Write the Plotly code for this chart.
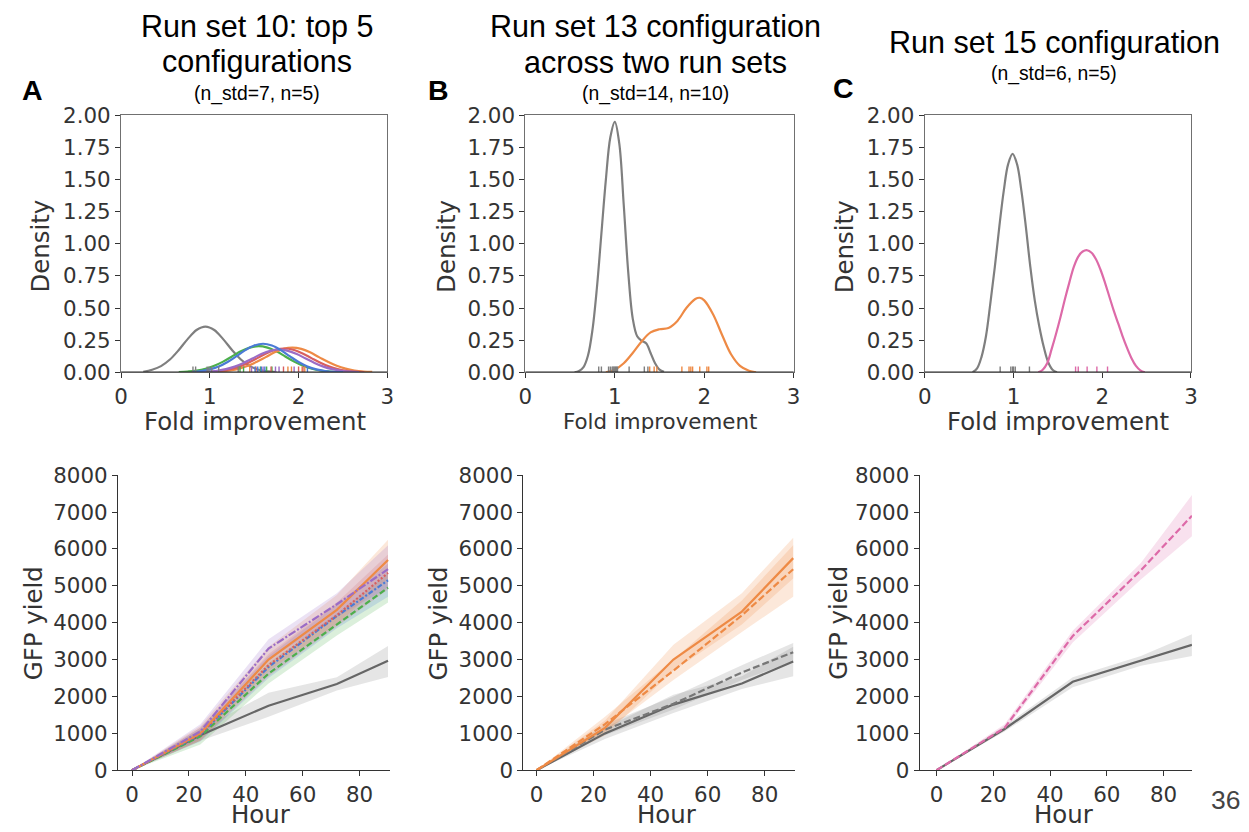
import plotly.graph_objects as go

W, H = 1249, 832

# The page is shown with the browser's default body margin and fitted to the
# window, so window positions are mapped back to figure pixels here.
OX, SX = 7.0, 0.988
OY, SY = 10.0, 0.976
FS = 1 / 0.982   # font size compensation for the same fit

# ---------------- Fold-improvement densities (top row) ----------------
# Panel A: standard (gray) + top 5 configurations
A_gray_x = [0.25, 0.35, 0.45, 0.55, 0.65, 0.75, 0.85, 0.95, 1.05, 1.15, 1.25, 1.35, 1.45, 1.55, 1.65, 1.75]
A_gray_y = [0.003, 0.020, 0.048, 0.099, 0.173, 0.258, 0.329, 0.356, 0.329, 0.258, 0.173, 0.099, 0.048, 0.020, 0.007, 0.002]
A_blue_x = [0.8, 0.9, 1.0, 1.1, 1.2, 1.3, 1.4, 1.5, 1.6, 1.7, 1.8, 1.9, 2.0, 2.1, 2.2, 2.3, 2.4, 2.5]
A_blue_y = [0.004, 0.010, 0.022, 0.045, 0.080, 0.125, 0.172, 0.208, 0.222, 0.208, 0.172, 0.125, 0.080, 0.045, 0.022, 0.010, 0.004, 0.001]
A_green_x = [0.65, 0.75, 0.85, 0.95, 1.05, 1.15, 1.25, 1.35, 1.45, 1.55, 1.65, 1.75, 1.85, 1.95, 2.05, 2.15, 2.25, 2.35, 2.45]
A_green_y = [0.002, 0.006, 0.013, 0.027, 0.051, 0.083, 0.123, 0.163, 0.192, 0.203, 0.192, 0.163, 0.123, 0.083, 0.051, 0.027, 0.013, 0.006, 0.002]
A_purple_x = [0.88, 0.98, 1.08, 1.18, 1.28, 1.38, 1.48, 1.58, 1.68, 1.78, 1.88, 1.98, 2.08, 2.18, 2.28, 2.38, 2.48, 2.58, 2.68]
A_purple_y = [0.002, 0.005, 0.012, 0.024, 0.044, 0.073, 0.107, 0.142, 0.167, 0.177, 0.167, 0.142, 0.107, 0.073, 0.044, 0.024, 0.012, 0.005, 0.002]
A_red_x = [0.94, 1.04, 1.14, 1.24, 1.34, 1.44, 1.54, 1.64, 1.74, 1.84, 1.94, 2.04, 2.14, 2.24, 2.34, 2.44, 2.54, 2.64, 2.74]
A_red_y = [0.002, 0.005, 0.012, 0.025, 0.046, 0.076, 0.112, 0.148, 0.175, 0.185, 0.175, 0.148, 0.112, 0.076, 0.046, 0.025, 0.012, 0.005, 0.002]
A_orange_x = [1.03, 1.13, 1.23, 1.33, 1.43, 1.53, 1.63, 1.73, 1.83, 1.93, 2.03, 2.13, 2.23, 2.33, 2.43, 2.53, 2.63, 2.73, 2.83]
A_orange_y = [0.003, 0.006, 0.014, 0.028, 0.050, 0.081, 0.118, 0.155, 0.182, 0.192, 0.182, 0.155, 0.118, 0.081, 0.050, 0.028, 0.014, 0.006, 0.003]

A_rug_gray = [0.81, 0.84, 0.97, 0.99, 1.02, 1.10, 1.32]
A_rug_blue = [1.51, 1.54, 1.58, 1.62, 2.10]
A_rug_green = [1.34, 1.38, 1.57, 1.64, 1.70]
A_rug_purple = [1.47, 1.60, 1.74, 1.78, 1.95]
A_rug_red = [1.52, 1.69, 1.83, 2.00, 2.05]
A_rug_orange = [1.45, 1.88, 1.92, 2.04, 2.07]

# Panel B: standard vs run set 13 configuration
B_gray_x = [0.55, 0.60, 0.65, 0.70, 0.75, 0.80, 0.85, 0.90, 0.95, 1.00, 1.05, 1.10, 1.15, 1.20, 1.25, 1.30, 1.35, 1.40, 1.45, 1.50, 1.55]
B_gray_y = [0.00, 0.01, 0.04, 0.13, 0.33, 0.66, 1.08, 1.50, 1.83, 1.95, 1.78, 1.30, 0.78, 0.42, 0.28, 0.245, 0.225, 0.15, 0.07, 0.02, 0.003]
B_orange_x = [0.90, 1.00, 1.10, 1.20, 1.30, 1.40, 1.50, 1.60, 1.70, 1.80, 1.90, 1.95, 2.00, 2.10, 2.20, 2.30, 2.40, 2.50, 2.58]
B_orange_y = [0.00, 0.02, 0.07, 0.15, 0.24, 0.31, 0.335, 0.345, 0.40, 0.50, 0.57, 0.58, 0.56, 0.45, 0.29, 0.14, 0.05, 0.012, 0.00]
B_rug_gray = [0.82, 0.85, 0.93, 0.95, 0.97, 0.98, 0.99, 1.00, 1.01, 1.02, 1.03, 1.16, 1.33, 1.37]
B_rug_orange = [1.39, 1.44, 1.47, 1.75, 1.83, 1.85, 1.87, 1.95, 2.03, 2.05]

# Panel C: standard vs run set 15 configuration
C_gray_x = [0.54, 0.59, 0.64, 0.69, 0.74, 0.79, 0.84, 0.89, 0.94, 0.99, 1.04, 1.09, 1.14, 1.19, 1.24, 1.29, 1.34, 1.39, 1.44, 1.49]
C_gray_y = [0.00, 0.03, 0.12, 0.28, 0.54, 0.82, 1.13, 1.41, 1.62, 1.70, 1.62, 1.41, 1.13, 0.82, 0.56, 0.36, 0.20, 0.08, 0.02, 0.00]
C_pink_x = [1.28, 1.33, 1.38, 1.43, 1.48, 1.53, 1.58, 1.63, 1.68, 1.73, 1.78, 1.83, 1.88, 1.93, 1.98, 2.03, 2.08, 2.13, 2.18, 2.23, 2.28, 2.33, 2.38, 2.43, 2.48]
C_pink_y = [0.00, 0.02, 0.07, 0.18, 0.30, 0.43, 0.57, 0.70, 0.82, 0.90, 0.94, 0.95, 0.93, 0.88, 0.80, 0.70, 0.59, 0.48, 0.38, 0.28, 0.19, 0.11, 0.05, 0.015, 0.00]
C_rug_gray = [0.85, 0.97, 0.99, 1.00, 1.02, 1.18]
C_rug_pink = [1.70, 1.73, 1.83, 1.94, 2.06]

# ---------------- GFP yield over time (bottom row) ----------------
HOURS = [0, 24, 48, 72, 90]

A_std_mean = [0, 950, 1750, 2340, 2970]
A_std_lo = [0, 800, 1450, 2160, 2530]
A_std_hi = [0, 1100, 2100, 2520, 3370]
A_c1_mean = [0, 1000, 3000, 4350, 5700]   # orange
A_c1_lo = [0, 800, 2700, 3950, 5200]
A_c1_hi = [0, 1200, 3350, 4750, 6250]
A_c2_mean = [0, 920, 2620, 3960, 4950]    # green
A_c2_lo = [0, 700, 2350, 3650, 4550]
A_c2_hi = [0, 1100, 2900, 4250, 5350]
A_c3_mean = [0, 980, 2850, 4200, 5350]    # red
A_c3_lo = [0, 800, 2550, 3900, 4900]
A_c3_hi = [0, 1150, 3150, 4550, 5850]
A_c4_mean = [0, 970, 2800, 4180, 5150]    # blue
A_c4_lo = [0, 780, 2500, 3850, 4700]
A_c4_hi = [0, 1150, 3100, 4500, 5600]
A_c5_mean = [0, 1050, 3300, 4500, 5450]   # purple
A_c5_lo = [0, 850, 3000, 4150, 4950]
A_c5_hi = [0, 1250, 3550, 4800, 6100]

B_std1_mean = [0, 1000, 1780, 2350, 2950]
B_std1_lo = [0, 850, 1550, 2200, 2550]
B_std1_hi = [0, 1150, 2050, 2550, 3350]
B_std2_mean = [0, 1100, 1800, 2650, 3200]
B_std2_lo = [0, 950, 1650, 2450, 2950]
B_std2_hi = [0, 1250, 2000, 2850, 3450]
B_cfg1_mean = [0, 1150, 3000, 4300, 5750]
B_cfg1_lo = [0, 950, 2700, 3950, 5200]
B_cfg1_hi = [0, 1350, 3400, 4800, 6300]
B_cfg2_mean = [0, 1250, 2700, 4200, 5450]
B_cfg2_lo = [0, 1050, 2450, 3750, 4700]
B_cfg2_hi = [0, 1450, 3000, 4600, 6100]

C_std_mean = [0, 1120, 2400, 2970, 3400]
C_std_lo = [0, 1050, 2250, 2830, 3100]
C_std_hi = [0, 1200, 2520, 3100, 3690]
C_cfg_mean = [0, 1150, 3640, 5420, 6900]
C_cfg_lo = [0, 1080, 3460, 5170, 6340]
C_cfg_hi = [0, 1250, 3780, 5620, 7460]

# palette
GRAY = "#7f7f7f"
BLUE = "#4a7bd6"
ORANGE = "#ee8a45"
GREEN = "#4caf4c"
RED = "#d85f5f"
PURPLE = "#9b6cc6"
PINK = "#dd6aa8"

TICK_FONT = dict(family="DejaVu Sans", size=21 * FS, color="#333333")
TITLE_FONT = "Liberation Sans, Arial"


def rgba(hex_color, a):
    h = hex_color.lstrip("#")
    r, g, b = int(h[0:2], 16), int(h[2:4], 16), int(h[4:6], 16)
    return f"rgba({r},{g},{b},{a})"


def px(x):
    """window x pixel -> paper fraction"""
    return ((x - OX) / SX) / W


def py(y):
    """window y pixel (from top) -> paper fraction"""
    return 1 - ((y - OY) / SY) / H


fig = go.Figure()


def density(ax, xs, ys, color):
    fig.add_trace(go.Scatter(x=xs, y=ys, mode="lines", line=dict(color=color, width=2.2, shape="spline", smoothing=1.0),
                             xaxis="x" + ax, yaxis="y" + ax, showlegend=False, hoverinfo="skip"))


def rug(ax, vals, color):
    xs, ys = [], []
    for v in vals:
        xs += [v, v, None]
        ys += [0, 0.045, None]
    fig.add_trace(go.Scatter(x=xs, y=ys, mode="lines", line=dict(color=color, width=1.4),
                             xaxis="x" + ax, yaxis="y" + ax, showlegend=False, hoverinfo="skip"))


def band(ax, lo, hi, color):
    fig.add_trace(go.Scatter(x=HOURS + HOURS[::-1], y=hi + lo[::-1], mode="lines", fill="toself",
                             fillcolor=rgba(color, 0.2), line=dict(width=0, color=rgba(color, 0)),
                             xaxis="x" + ax, yaxis="y" + ax, showlegend=False, hoverinfo="skip"))


def mean_line(ax, ys, color, dash="solid"):
    fig.add_trace(go.Scatter(x=HOURS, y=ys, mode="lines", line=dict(color=color, width=2.2, dash=dash),
                             xaxis="x" + ax, yaxis="y" + ax, showlegend=False, hoverinfo="skip"))


# --- top row ---
density("", A_gray_x, A_gray_y, GRAY)
density("", A_green_x, A_green_y, GREEN)
density("", A_orange_x, A_orange_y, ORANGE)
density("", A_red_x, A_red_y, RED)
density("", A_purple_x, A_purple_y, PURPLE)
density("", A_blue_x, A_blue_y, BLUE)
rug("", A_rug_gray, GRAY)
rug("", A_rug_green, GREEN)
rug("", A_rug_orange, ORANGE)
rug("", A_rug_red, RED)
rug("", A_rug_purple, PURPLE)
rug("", A_rug_blue, BLUE)

density("2", B_gray_x, B_gray_y, GRAY)
density("2", B_orange_x, B_orange_y, ORANGE)
rug("2", B_rug_gray, GRAY)
rug("2", B_rug_orange, ORANGE)

density("3", C_gray_x, C_gray_y, GRAY)
density("3", C_pink_x, C_pink_y, PINK)
rug("3", C_rug_gray, GRAY)
rug("3", C_rug_pink, PINK)

# --- bottom row ---
band("4", A_std_lo, A_std_hi, GRAY)
band("4", A_c2_lo, A_c2_hi, GREEN)
band("4", A_c4_lo, A_c4_hi, BLUE)
band("4", A_c3_lo, A_c3_hi, RED)
band("4", A_c1_lo, A_c1_hi, ORANGE)
band("4", A_c5_lo, A_c5_hi, PURPLE)
mean_line("4", A_std_mean, "#666666")
mean_line("4", A_c2_mean, GREEN, "6px,3px")
mean_line("4", A_c4_mean, BLUE, "5px,2px,2px,2px")
mean_line("4", A_c3_mean, RED, "2px,2px")
mean_line("4", A_c1_mean, ORANGE)
mean_line("4", A_c5_mean, PURPLE, "8px,2px,2px,2px")

band("5", B_std1_lo, B_std1_hi, GRAY)
band("5", B_std2_lo, B_std2_hi, GRAY)
band("5", B_cfg1_lo, B_cfg1_hi, ORANGE)
band("5", B_cfg2_lo, B_cfg2_hi, ORANGE)
mean_line("5", B_std1_mean, "#666666")
mean_line("5", B_std2_mean, "#777777", "7px,3px")
mean_line("5", B_cfg1_mean, ORANGE)
mean_line("5", B_cfg2_mean, ORANGE, "7px,3px")

band("6", C_std_lo, C_std_hi, GRAY)
band("6", C_cfg_lo, C_cfg_hi, PINK)
mean_line("6", C_std_mean, "#666666")
mean_line("6", C_cfg_mean, PINK, "7px,3px")


def dx(a, b):
    return [px(a), px(b)]


def dy(top, bottom):
    return [py(bottom), py(top)]


top_x = {"": (121, 387), "2": (525, 793), "3": (924, 1190)}
bot_x = {"4": (118, 390), "5": (523, 794), "6": (919, 1191)}
bot_range = {"4": [-4.9, 90.8], "5": [-4.6, 90.5], "6": [-5.9, 90.0]}

layout = dict(width=W, height=H, autosize=False, margin=dict(l=0, r=0, t=0, b=0, pad=0),
              paper_bgcolor="white", plot_bgcolor="white", showlegend=False)

for k, (a, b) in top_x.items():
    layout["xaxis" + k] = dict(domain=dx(a, b), anchor="y" + k, range=[0, 3], tickvals=[0, 1, 2, 3],
                               showline=True, mirror=True, linecolor="#707070", linewidth=1.3,
                               ticks="outside", ticklen=5, tickcolor="#333333", tickwidth=1.2,
                               tickfont=TICK_FONT, showgrid=False, zeroline=False, fixedrange=True)
    layout["yaxis" + k] = dict(domain=dy(113, 371.5), anchor="x" + k, range=[0, 2],
                               tickvals=[0, 0.25, 0.5, 0.75, 1.0, 1.25, 1.5, 1.75, 2.0], tickformat=".2f",
                               showline=True, mirror=True, linecolor="#707070", linewidth=1.3,
                               ticks="outside", ticklen=5, tickcolor="#333333", tickwidth=1.2,
                               tickfont=TICK_FONT, showgrid=False, zeroline=False, fixedrange=True)

for k, (a, b) in bot_x.items():
    layout["xaxis" + k] = dict(domain=dx(a, b), anchor="y" + k, range=bot_range[k], tickvals=[0, 20, 40, 60, 80],
                               showline=True, linecolor="#333333", linewidth=1.3,
                               ticks="outside", ticklen=5, tickcolor="#333333", tickwidth=1.2,
                               tickfont=TICK_FONT, showgrid=False, zeroline=False, fixedrange=True)
    layout["yaxis" + k] = dict(domain=dy(475, 772), anchor="x" + k, range=[0, 8000],
                               tickvals=[0, 1000, 2000, 3000, 4000, 5000, 6000, 7000, 8000], tickformat="d",
                               showline=True, linecolor="#333333", linewidth=1.3,
                               ticks="outside", ticklen=5, tickcolor="#333333", tickwidth=1.2,
                               tickfont=TICK_FONT, showgrid=False, zeroline=False, fixedrange=True)

# dark baseline at density zero
shapes = []
for k in ["", "2", "3"]:
    shapes.append(dict(type="line", xref="x" + k + " domain", yref="y" + k,
                       x0=0, x1=1, y0=0, y1=0, line=dict(color="#222222", width=1.6), layer="above"))
layout["shapes"] = shapes

ann = []


def text(x, y, s, size, family=TITLE_FONT, color="#000000", angle=0, bold=False):
    if bold:
        s = "<b>" + s + "</b>"
    ann.append(dict(x=px(x), y=py(y), xref="paper", yref="paper", text=s, showarrow=False,
                    xanchor="center", yanchor="middle", textangle=angle,
                    font=dict(family=family, size=size * FS, color=color)))


# panel titles
text(257, 24, "Run set 10: top 5", 30)
text(257, 59, "configurations", 30)
text(257, 91, "(n_std=7, n=5)", 19)
text(655, 24, "Run set 13 configuration", 30)
text(655, 59, "across two run sets", 30)
text(655, 91, "(n_std=14, n=10)", 19)
text(1054, 40, "Run set 15 configuration", 30)
text(1053, 71, "(n_std=6, n=5)", 19)

# panel letters
text(32, 87, "A", 28, bold=True)
text(438, 87, "B", 28, bold=True)
text(843, 85, "C", 28, bold=True)

# axis titles
AX = "DejaVu Sans"
text(255, 421, "Fold improvement", 24, AX, "#333333")
text(659, 421, "Fold improvement", 21, AX, "#333333")
text(1057, 421, "Fold improvement", 24, AX, "#333333")
text(41, 245, "Density", 24, AX, "#333333", -90)
text(446, 245, "Density", 24, AX, "#333333", -90)
text(844, 245, "Density", 24, AX, "#333333", -90)
text(33, 624, "GFP yield", 24, AX, "#333333", -90)
text(438, 624, "GFP yield", 24, AX, "#333333", -90)
text(838, 624, "GFP yield", 24, AX, "#333333", -90)
text(261, 817, "Hour", 24, AX, "#333333")
text(666, 817, "Hour", 24, AX, "#333333")
text(1063, 817, "Hour", 24, AX, "#333333")

# page number
text(1225, 802, "36", 26, color="#444444")

layout["annotations"] = ann
fig.update_layout(**layout)
fig.write_html("out.html")
